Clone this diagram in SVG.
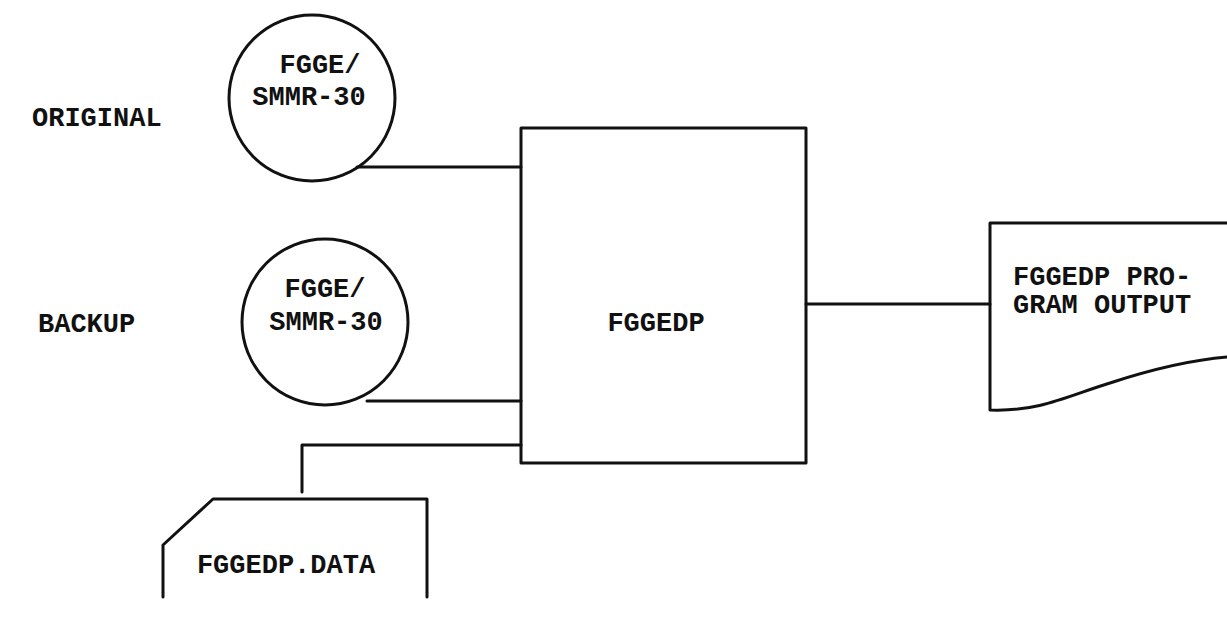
<svg xmlns="http://www.w3.org/2000/svg" width="1227" height="619" viewBox="0 0 1227 619">
<style>
.s{fill:none;stroke:#111;stroke-width:3;stroke-linejoin:round;stroke-linecap:round}
.t{font-family:"Liberation Mono","DejaVu Sans Mono",monospace;font-size:27px;font-weight:bold;fill:#111}
.c{text-anchor:middle}
</style>
<rect width="1227" height="619" fill="#fff"/>
<g id="label-original"><text class="t" x="32" y="126">ORIGINAL</text></g>
<g id="label-backup"><text class="t" x="38" y="332">BACKUP</text></g>
<g id="connectors">
<path class="s" d="M357 167 H521"/>
<path class="s" d="M367 401 H521"/>
<path class="s" d="M302 492 V445 H521"/>
<path class="s" d="M806 304 H990"/>
</g>
<g id="tape-original">
<circle class="s" cx="312" cy="98" r="83"/>
<text class="t c" x="320" y="73">FGGE/</text>
<text class="t c" x="309" y="105">SMMR-30</text>
</g>
<g id="tape-backup">
<circle class="s" cx="325" cy="322" r="83"/>
<text class="t c" x="325" y="297">FGGE/</text>
<text class="t c" x="326" y="330">SMMR-30</text>
</g>
<g id="fggedp">
<rect class="s" x="521" y="128" width="285" height="335"/>
<text class="t c" x="656" y="331">FGGEDP</text>
</g>
<g id="data-card">
<path class="s" d="M163 597 V545 L213 499 H427 V597"/>
<text class="t c" x="286" y="573">FGGEDP.DATA</text>
</g>
<g id="output">
<path class="s" d="M1228 223 H990 V410 C1040 412 1070 395 1110 383 C1150 370 1190 360 1228 357"/>
<text class="t" x="1013" y="285">FGGEDP PRO-</text>
<text class="t" x="1013" y="313">GRAM OUTPUT</text>
</g>
</svg>
